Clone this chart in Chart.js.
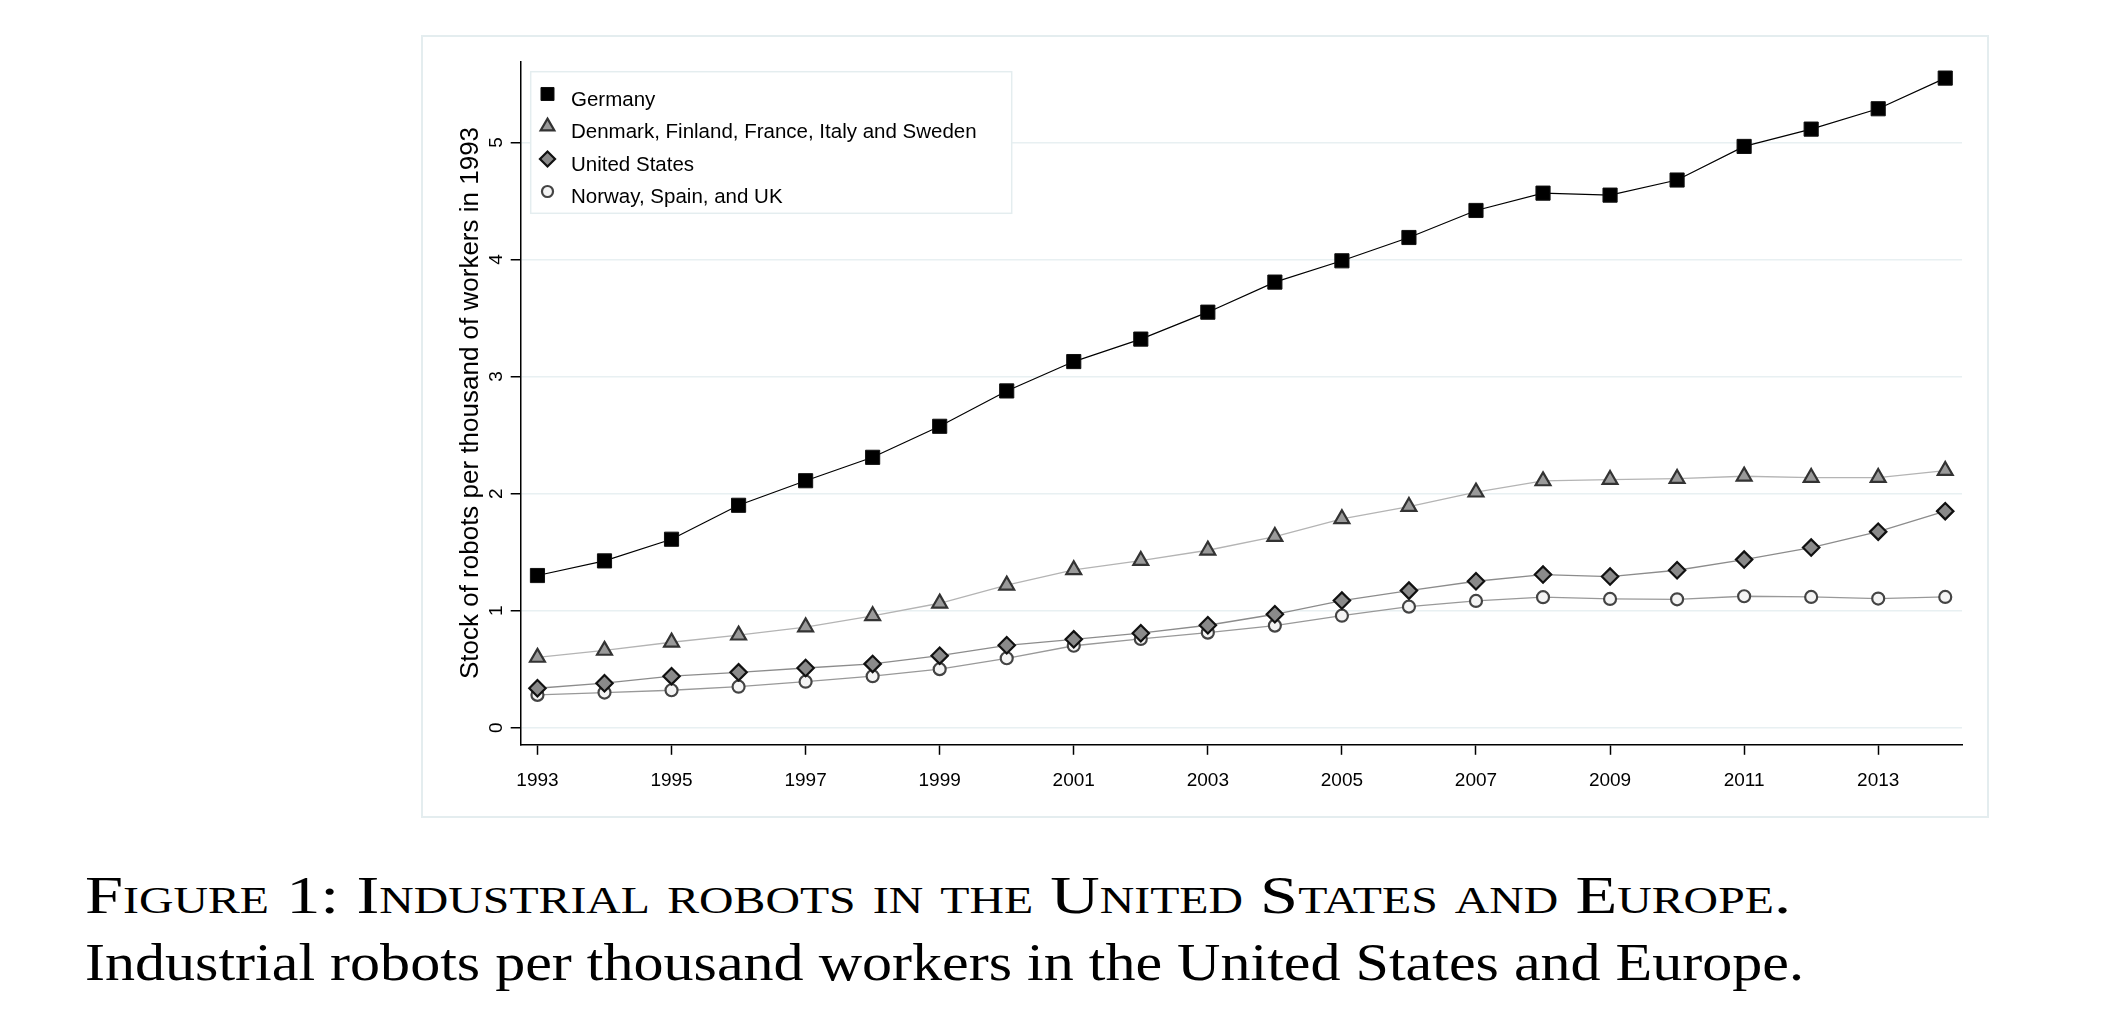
<!DOCTYPE html>
<html><head><meta charset="utf-8">
<script src="https://cdn.jsdelivr.net/npm/chart.js@4.4.1/dist/chart.umd.min.js"></script>
<style>
html,body{margin:0;padding:0;background:#fff;width:2112px;height:1034px;overflow:hidden}
#wrap{position:absolute;left:421px;top:35px;width:1568px;height:783px}
.cap{position:absolute;left:85px;font-family:"Liberation Serif",serif;font-size:53px;color:#000;white-space:nowrap;transform-origin:0 0;line-height:1}
</style></head><body>
<div id="wrap"><canvas id="c" width="1568" height="783"></canvas></div>
<div class="cap" id="cap1" style="top:869px"><span style="font-variant:small-caps">Figure 1: Industrial robots in the United States and Europe.</span></div>
<div class="cap" id="cap2" style="top:936px">Industrial robots per thousand workers in the United States and Europe.</div>
<script>
const years = [1993,1994,1995,1996,1997,1998,1999,2000,2001,2002,2003,2004,2005,2006,2007,2008,2009,2010,2011,2012,2013,2014];
const germany = [1.30,1.425,1.61,1.90,2.11,2.31,2.575,2.877,3.128,3.32,3.55,3.807,3.989,4.188,4.419,4.567,4.55,4.679,4.966,5.114,5.288,5.55];
const dffis = [0.60,0.66,0.73,0.79,0.86,0.955,1.063,1.217,1.348,1.427,1.516,1.632,1.784,1.889,2.012,2.108,2.12,2.128,2.148,2.137,2.137,2.197];
const us = [0.337,0.38,0.44,0.473,0.51,0.545,0.615,0.704,0.755,0.807,0.875,0.969,1.086,1.171,1.251,1.308,1.291,1.345,1.436,1.539,1.675,1.85];
const nsuk = [0.28,0.30,0.32,0.35,0.393,0.44,0.50,0.593,0.70,0.758,0.812,0.872,0.957,1.034,1.083,1.115,1.10,1.097,1.123,1.117,1.103,1.117];
const seriesLabels = ["Germany","Denmark, Finland, France, Italy and Sweden","United States","Norway, Spain, and UK"];
const xTicks = [1993,1995,1997,1999,2001,2003,2005,2007,2009,2011,2013];
const yTicks = [0,1,2,3,4,5];
const yTitle = "Stock of robots per thousand of workers in 1993";

const pts = arr => years.map((yr,i)=>({x:yr,y:arr[i]}));

const boxPlugin = {
  id:'box',
  beforeDraw(chart){
    const ctx = chart.ctx;
    ctx.save();
    ctx.fillStyle='#fff'; ctx.fillRect(0,0,chart.width,chart.height);
    ctx.strokeStyle='#e4edef'; ctx.lineWidth=2;
    ctx.strokeRect(1,1,chart.width-2,chart.height-2);
    ctx.restore();
  }
};
const legendPlugin = {
  id:'boxLegend',
  afterDraw(chart){
    const ctx = chart.ctx;
    const x0 = 109.7, y0 = 36.7, w = 481, h = 141.6;
    ctx.save();
    ctx.fillStyle='#fff'; ctx.fillRect(x0,y0,w,h);
    ctx.strokeStyle='#e4edef'; ctx.lineWidth=1.5; ctx.strokeRect(x0,y0,w,h);
    [0,1,2,3].forEach((di,i)=>{
      const ds = chart.data.datasets.find(d=>d.key===di);
      const base = 70.5 + 32.5*i;
      ctx.fillStyle = ds.pointBackgroundColor;
      ctx.strokeStyle = ds.pointBorderColor;
      ctx.lineWidth = ds.pointBorderWidth;
      Chart.helpers.drawPoint(ctx,{pointStyle:ds.pointStyle,radius:ds.pointRadius*0.92,borderWidth:ds.pointBorderWidth,rotation:0},126.5,base-11.5);
      ctx.fillStyle='#000';
      ctx.font='20.5px "Liberation Sans"';
      ctx.textBaseline='alphabetic'; ctx.textAlign='left';
      ctx.fillText(ds.label,150,base);
    });
    ctx.restore();
  }
};

new Chart(document.getElementById('c'),{
  type:'line',
  data:{datasets:[
    {key:0,label:seriesLabels[0],data:pts(germany),order:1,borderColor:'#000',borderWidth:1.2,pointStyle:'rect',pointRadius:10,pointBackgroundColor:'#000',pointBorderColor:'#111',pointBorderWidth:1,tension:0},
    {key:1,label:seriesLabels[1],data:pts(dffis),order:3,borderColor:'#b4b4b4',borderWidth:1.3,pointStyle:'triangle',pointRadius:8.6,pointBackgroundColor:'#9a9a9a',pointBorderColor:'#333',pointBorderWidth:2.2,tension:0},
    {key:2,label:seriesLabels[2],data:pts(us),order:2,borderColor:'#8c8c8c',borderWidth:1.3,pointStyle:'rectRot',pointRadius:8.2,pointBackgroundColor:'#8a8a8a',pointBorderColor:'#111',pointBorderWidth:2.2,tension:0},
    {key:3,label:seriesLabels[3],data:pts(nsuk),order:4,borderColor:'#999',borderWidth:1.3,pointStyle:'circle',pointRadius:6,pointBackgroundColor:'#f4f4f4',pointBorderColor:'#444',pointBorderWidth:2.2,tension:0}
  ]},
  options:{
    responsive:false,animation:false,
    layout:{padding:{left:0,right:27,top:26.7,bottom:0}},
    plugins:{legend:{display:false},tooltip:{enabled:false}},
    scales:{
      x:{type:'linear',min:1992.75,max:2014.25,
        afterBuildTicks:s=>{s.ticks=xTicks.map(v=>({value:v}));},
        afterFit:s=>{s.height=73.7;},
        border:{display:true,color:'#000',width:1.5},
        grid:{drawOnChartArea:false,drawTicks:true,tickLength:10.5,tickColor:'#000',tickWidth:1.5},
        ticks:{color:'#000',font:{family:'Liberation Sans',size:19},padding:15,minRotation:0,maxRotation:0,callback:v=>String(v)}
      },
      y:{type:'linear',min:-0.142,max:5.69,
        afterBuildTicks:s=>{s.ticks=yTicks.map(v=>({value:v}));},
        afterFit:s=>{s.width=99.7;},
        border:{display:true,color:'#000',width:1.5},
        grid:{color:'#e8f0f2',lineWidth:1.5,drawTicks:true,tickLength:10,tickColor:'#000',tickWidth:1.5},
        ticks:{minRotation:90,maxRotation:90,crossAlign:'center',padding:9,color:'#000',font:{family:'Liberation Sans',size:19},callback:v=>String(v)},
        title:{display:true,text:yTitle,color:'#000',font:{family:'Liberation Sans',size:26},padding:{top:34,bottom:0}}
      }
    }
  },
  plugins:[boxPlugin,legendPlugin]
});

function fitCap(id,target){
  const el=document.getElementById(id);
  const w=el.getBoundingClientRect().width;
  el.style.transform='scaleX('+(target/w)+')';
}
fitCap('cap1',1706);
fitCap('cap2',1719);
</script>
</body></html>
